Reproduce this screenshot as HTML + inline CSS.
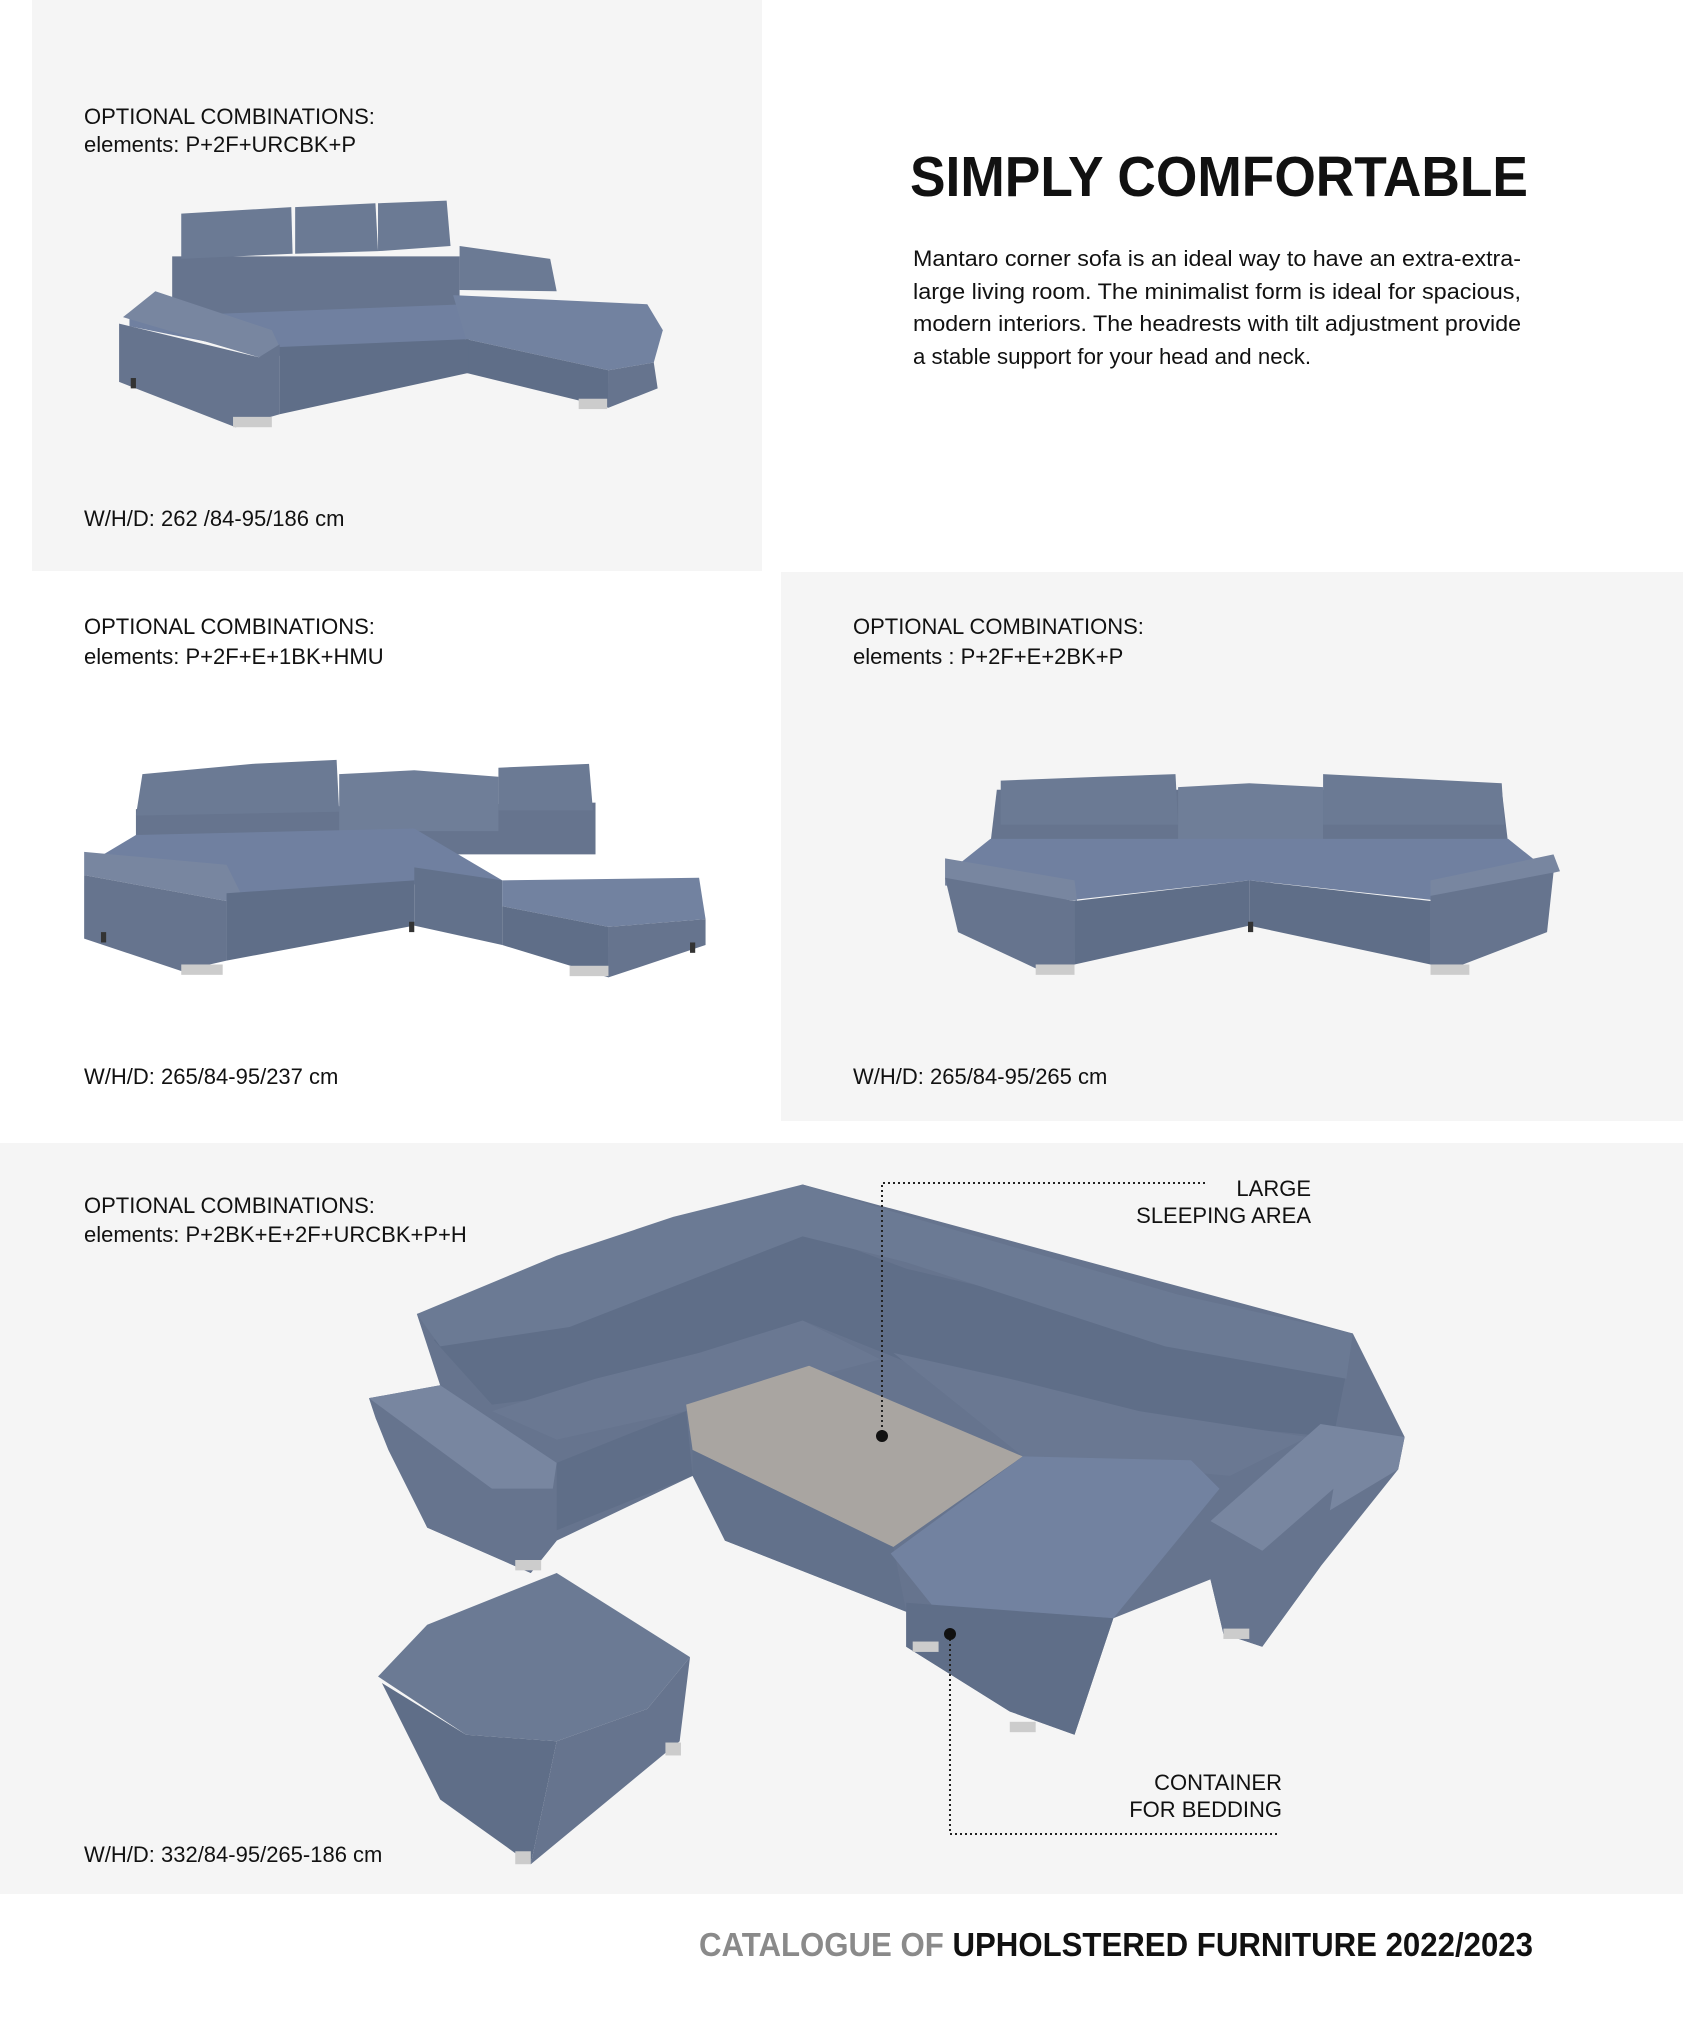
<!DOCTYPE html>
<html><head><meta charset="utf-8"><style>
html,body{margin:0;padding:0;background:#fff;}
svg{display:block;}
text{font-family:"Liberation Sans",sans-serif;fill:#111;}
</style></head><body>
<svg width="1683" height="2040" viewBox="0 0 1683 2040" xmlns="http://www.w3.org/2000/svg">
<rect x="0" y="0" width="1683" height="2040" fill="#fff"/>
<rect x="32" y="0" width="730" height="571" fill="#f5f5f5"/>
<rect x="781" y="572" width="902" height="549" fill="#f5f5f5"/>
<rect x="0" y="1143" width="1683" height="751" fill="#f5f5f5"/>

<text x="84" y="124" font-size="22">OPTIONAL COMBINATIONS:</text>
<text x="84" y="152" font-size="22">elements: P+2F+URCBK+P</text>
<text x="84" y="526" font-size="22">W/H/D: 262 /84-95/186 cm</text>

<text x="910" y="196" font-size="57" font-weight="bold" textLength="618" lengthAdjust="spacingAndGlyphs">SIMPLY COMFORTABLE</text>
<g font-size="22" fill="#222">
<text x="913" y="266" textLength="608" lengthAdjust="spacingAndGlyphs">Mantaro corner sofa is an ideal way to have an extra-extra-</text>
<text x="913" y="299" textLength="608" lengthAdjust="spacingAndGlyphs">large living room. The minimalist form is ideal for spacious,</text>
<text x="913" y="331" textLength="608" lengthAdjust="spacingAndGlyphs">modern interiors. The headrests with tilt adjustment provide</text>
<text x="913" y="364" textLength="398" lengthAdjust="spacingAndGlyphs">a stable support for your head and neck.</text>
</g>

<text x="84" y="634" font-size="22">OPTIONAL COMBINATIONS:</text>
<text x="84" y="664" font-size="22">elements: P+2F+E+1BK+HMU</text>
<text x="84" y="1084" font-size="22">W/H/D: 265/84-95/237 cm</text>
<text x="853" y="634" font-size="22">OPTIONAL COMBINATIONS:</text>
<text x="853" y="664" font-size="22">elements :  P+2F+E+2BK+P</text>
<text x="853" y="1084" font-size="22">W/H/D: 265/84-95/265 cm</text>
<text x="84" y="1213" font-size="22">OPTIONAL COMBINATIONS:</text>
<text x="84" y="1242" font-size="22">elements: P+2BK+E+2F+URCBK+P+H</text>
<text x="84" y="1862" font-size="22">W/H/D: 332/84-95/265-186 cm</text>

<g transform="scale(1.2946)">
<!-- sofa 1 -->
<g>
<polygon points="133,198 355,198 355,245 133,245" fill="#66748e"/>
<polygon points="140,165 225,160 226,196 140,200" fill="#6b7a94"/>
<polygon points="228,160 290,157 292,194 228,196" fill="#6b7a94"/>
<polygon points="292,157 345,155 348,190 292,194" fill="#6b7a94"/>
<polygon points="355,190 425,200 430,225 355,224" fill="#6b7a94"/>
<polygon points="100,245 360,235 362,262 215,275 100,252" fill="#7080a0"/>
<polygon points="350,228 500,235 512,255 505,280 470,286 360,262" fill="#7282a0"/>
<polygon points="360,262 470,286 470,315 360,288" fill="#5f6e88"/>
<polygon points="470,286 505,280 508,300 470,315" fill="#66748e"/>
<polygon points="95,245 120,225 210,255 216,268 200,276" fill="#7886a0"/>
<polygon points="92,250 200,276 216,266 216,320 182,330 92,295" fill="#66748e"/>
<polygon points="216,268 362,262 362,288 216,320" fill="#5f6e88"/>
<rect x="180" y="322" width="30" height="8" fill="#ccc"/>
<rect x="447" y="308" width="22" height="8" fill="#ccc"/>
<rect x="101" y="292" width="4" height="8" fill="#333"/>
</g>
<!-- sofa 2 -->
<g>
<polygon points="105,625 460,620 460,660 105,660" fill="#66748e"/>
<polygon points="110,598 195,590 260,587 262,627 105,630" fill="#6b7a94"/>
<polygon points="262,598 320,595 385,600 385,642 262,642" fill="#6f7e98"/>
<polygon points="385,593 455,590 458,626 385,626" fill="#6b7a94"/>
<polygon points="105,645 320,640 388,680 175,690 80,660" fill="#7080a0"/>
<polygon points="65,658 175,668 186,690 175,696 65,676" fill="#7886a0"/>
<polygon points="65,676 175,696 175,742 140,750 65,725" fill="#66748e"/>
<polygon points="175,690 320,680 320,715 175,742" fill="#5f6e88"/>
<polygon points="320,670 388,680 388,730 320,715" fill="#62718b"/>
<polygon points="388,680 540,678 545,710 470,716 388,700" fill="#7282a0"/>
<polygon points="388,700 470,716 470,755 388,730" fill="#5f6e88"/>
<polygon points="470,716 545,710 545,730 470,755" fill="#66748e"/>
<rect x="140" y="745" width="32" height="8" fill="#ccc"/>
<rect x="440" y="746" width="30" height="8" fill="#ccc"/>
<rect x="78" y="720" width="4" height="8" fill="#333"/><rect x="316" y="712" width="4" height="8" fill="#333"/><rect x="533" y="728" width="4" height="8" fill="#333"/>
</g>
<!-- sofa 3 -->
<g>
<polygon points="770,610 1160,610 1165,652 765,652" fill="#66748e"/>
<polygon points="773,603 850,600 908,598 910,637 773,637" fill="#6b7a94"/>
<polygon points="910,608 965,605 1022,608 1022,655 910,655" fill="#6f7e98"/>
<polygon points="1022,598 1160,605 1162,637 1022,637" fill="#6b7a94"/>
<polygon points="765,648 1165,648 1190,668 1105,695 965,680 830,695 740,668" fill="#7080a0"/>
<polygon points="730,663 830,680 832,696 730,684" fill="#7886a0"/>
<polygon points="730,678 830,696 830,745 800,748 740,720" fill="#66748e"/>
<polygon points="830,696 965,680 965,715 830,745" fill="#5f6e88"/>
<polygon points="965,680 1105,696 1105,745 965,715" fill="#5f6e88"/>
<polygon points="1105,680 1200,660 1205,673 1105,696" fill="#7886a0"/>
<polygon points="1105,692 1200,674 1195,720 1130,745 1105,745" fill="#66748e"/>
<rect x="800" y="745" width="30" height="8" fill="#ccc"/>
<rect x="1105" y="745" width="30" height="8" fill="#ccc"/>
<rect x="964" y="712" width="4" height="8" fill="#333"/>
</g>
<!-- big sofa -->
<g>
<polygon points="322,1015 620,915 1045,1030 1085,1110 1080,1135 1020,1210 975,1272 945,1262 935,1220 860,1250 830,1340 780,1322 700,1272 700,1245 560,1190 535,1140 430,1190 410,1215 330,1180 290,1095 285,1080 340,1070" fill="#66748e"/>
<polygon points="335,1035 620,950 700,980 1040,1060 1030,1110 870,1095 720,1060 620,1020 460,1075 380,1085" fill="#5f6e88"/>
<polygon points="322,1015 430,970 520,940 620,915 720,945 910,1000 1045,1030 1040,1065 900,1040 700,975 620,955 530,990 440,1025 340,1040" fill="#6b7a94"/>
<polygon points="380,1090 460,1065 540,1045 620,1020 680,1050 530,1090 430,1112" fill="#6a7892"/>
<polygon points="690,1045 780,1065 880,1090 1010,1110 950,1140 790,1125" fill="#6a7892"/>
<polygon points="430,1130 530,1090 535,1140 430,1182" fill="#5f6e88"/>
<polygon points="530,1085 625,1055 790,1125 690,1195 535,1120" fill="#a9a5a1"/>
<polygon points="535,1120 690,1195 700,1245 560,1190 535,1140" fill="#62718b"/>
<polygon points="688,1200 790,1125 920,1128 942,1150 860,1250 720,1240" fill="#7282a0"/>
<polygon points="700,1238 860,1250 830,1340 780,1322 700,1272" fill="#5f6e88"/>
<polygon points="935,1175 1020,1100 1085,1110 1080,1135 975,1198" fill="#7886a0"/>
<polygon points="935,1175 975,1198 1030,1150 1020,1210 975,1272 945,1262 935,1220" fill="#66748e"/>
<polygon points="285,1080 340,1070 430,1130 427,1150 380,1150" fill="#7886a0"/>
<polygon points="290,1095 380,1150 430,1150 430,1190 410,1215 330,1180 300,1120" fill="#66748e"/>
<polygon points="292,1295 330,1255 430,1215 533,1280 500,1320 430,1345 360,1340" fill="#6b7a94"/>
<polygon points="295,1300 360,1340 430,1345 410,1440 340,1390" fill="#5f6e88"/>
<polygon points="430,1345 500,1320 533,1280 525,1345 410,1440" fill="#66748e"/>
<rect x="398" y="1205" width="20" height="8" fill="#ccc"/>
<rect x="514" y="1346" width="12" height="10" fill="#ccc"/>
<rect x="705" y="1268" width="20" height="8" fill="#ccc"/>
<rect x="780" y="1330" width="20" height="8" fill="#ccc"/>
<rect x="945" y="1258" width="20" height="8" fill="#ccc"/>
<rect x="398" y="1430" width="12" height="10" fill="#ccc"/>
</g>
</g>

<g stroke="#222" stroke-width="2" stroke-dasharray="2,3" fill="none">
<polyline points="1205,1183 882,1183 882,1434"/>
<polyline points="950,1634 950,1834 1280,1834"/>
</g>
<circle cx="882" cy="1436" r="6" fill="#111"/>
<circle cx="950" cy="1634" r="6" fill="#111"/>
<g font-size="22" fill="#222" text-anchor="end">
<text x="1311" y="1196">LARGE</text>
<text x="1311" y="1223">SLEEPING AREA</text>
<text x="1282" y="1790">CONTAINER</text>
<text x="1282" y="1817">FOR BEDDING</text>
</g>

<text x="699" y="1956" font-size="33" font-weight="bold" textLength="834" lengthAdjust="spacingAndGlyphs"><tspan fill="#8a8a8a">CATALOGUE OF </tspan><tspan fill="#111">UPHOLSTERED FURNITURE 2022/2023</tspan></text>
</svg>
</body></html>
